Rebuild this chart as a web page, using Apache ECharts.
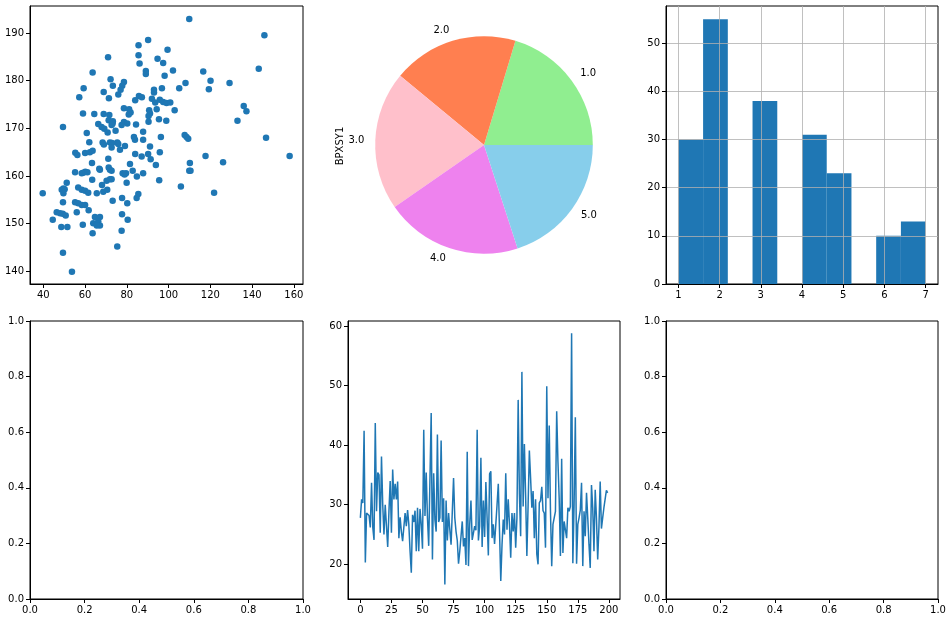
<!DOCTYPE html>
<html><head><meta charset="utf-8">
<script src="https://cdn.jsdelivr.net/npm/echarts@6/dist/echarts.min.js"></script>
<style>html,body{margin:0;padding:0;background:#fff}#c{width:951px;height:621px}</style>
</head><body><div id="c"></div>
<script>
// ---- Scatter (top-left) ----
const scatterX = [90.2,85.6,99.5,85.6,71.0,94.7,86.1,89.1,89.1,63.6,98.1,72.2,78.6,77.8,73.3,59.3,93.0,93.0,77.0,68.9,
75.9,57.2,71.4,85.8,87.2,84.0,92.0,95.8,97.4,99.0,93.6,78.6,81.1,81.8,80.9,90.7,91.1,90.4,94.3,59.0,
64.4,68.9,71.6,71.3,73.3,73.2,78.6,80.2,95.4,98.9,90.4,66.3,67.9,69.2,72.7,77.5,84.4,49.4,60.8,70.8,
74.6,87.8,62.0,68.4,71.9,75.4,83.4,
69.0,72.9,75.9,79.1,76.7,72.7,83.9,87.8,91.1,90.2,87.1,91.4,55.3,56.3,60.0,62.3,63.6,84.0,71.1,93.9,
63.3,81.5,71.3,71.9,72.7,66.8,67.1,82.8,55.2,58.4,59.1,60.1,61.1,78.0,78.9,79.6,87.8,84.8,63.4,70.3,
71.9,72.7,79.9,95.5,51.2,49.6,48.8,50.2,68.1,39.7,49.6,56.7,58.4,60.0,61.5,65.6,68.7,70.6,77.7,85.5,
84.7,49.4,73.2,80.2,55.2,56.7,58.4,60.0,56.0,61.7,46.4,48.0,49.3,50.7,64.7,67.1,77.7,44.5,80.4,63.9,
66.3,67.1,65.6,58.9,48.6,51.5,77.5,63.6,75.4,49.4,53.7,
109.9,145.9,97.4,143.2,102.1,116.6,120.1,108.1,129.2,119.3,105.1,96.8,96.3,100.8,102.9,136.0,137.3,133.0,107.7,108.6,
109.4,146.7,
95.8,117.7,158.0,110.2,126.1,109.9,110.5,105.9,121.8];
const scatterY = [188.5,187.4,186.5,185.3,184.9,184.6,183.6,182.0,181.4,181.7,181.0,180.3,179.7,178.9,178.9,178.4,178.1,177.5,178.1,177.6,
177.1,176.5,176.3,176.8,176.5,175.9,176.2,176.0,175.5,175.3,175.4,174.2,174.0,173.3,172.9,173.8,173.1,172.6,174.0,173.1,
173.0,173.0,172.8,171.7,171.5,171.0,171.3,171.0,171.9,171.6,171.4,170.9,170.3,169.9,170.7,170.7,170.8,170.3,169.0,169.1,
169.5,169.3,167.1,167.0,167.0,167.0,168.2,
166.6,166.9,166.7,166.3,165.5,166.0,167.6,167.6,166.2,164.6,164.1,163.5,164.9,164.4,164.8,165.0,165.3,164.6,163.6,162.3,
162.7,162.5,161.8,161.3,161.1,161.5,161.3,161.1,160.8,160.6,160.7,160.9,160.8,160.6,160.3,160.6,160.6,159.9,159.2,159.0,
159.3,159.3,158.6,159.1,158.6,157.4,157.1,157.2,158.1,156.4,156.4,157.6,157.1,156.9,156.5,156.4,156.7,157.1,155.4,156.2,
155.4,154.5,154.8,154.3,154.5,154.3,153.9,153.9,152.4,152.8,152.4,152.2,152.1,151.7,151.4,151.4,152.0,150.8,150.8,150.1,
150.5,149.6,149.6,149.8,149.3,149.3,148.5,148.0,145.2,143.9,139.9,
192.9,189.5,183.7,182.5,182.1,181.9,180.0,179.5,179.5,178.2,178.4,178.4,168.2,175.4,173.8,174.7,173.6,171.6,168.6,168.2,
167.8,168.0,
165.0,164.2,164.2,162.7,162.9,161.1,161.1,157.8,156.5];
const scatterXTicks = [40,60,80,100,120,140,160];
const scatterYTicks = [140,150,160,170,180,190];

// ---- Pie (top-middle) ----
const pieLabels = ['1.0','2.0','3.0','4.0','5.0'];
const pieValues = [122,112,124,122,120];
const pieColors = ['#90ee90','#ff7f50','#ffc0cb','#ee82ee','#87ceeb'];
const pieYLabel = 'BPXSY1';

// ---- Histogram (top-right) ----
const histEdges = [1.0,1.6,2.2,2.8,3.4,4.0,4.6,5.2,5.8,6.4,7.0];
const histCounts = [30,55,0,38,0,31,23,0,10,13];
const histXTicks = [1,2,3,4,5,6,7];
const histYTicks = [0,10,20,30,40,50];

// ---- Line (bottom-middle) ----
const lineValues = [27.8,30.9,30.3,42.4,20.3,28.6,28.3,28.2,26.2,33.7,
26.2,24.1,43.7,28.9,35.4,35.0,25.3,38.1,30.0,25.0,
30.0,30.3,22.9,28.9,34.0,25.3,35.9,30.9,33.5,30.9,
33.9,24.4,27.9,25.5,23.9,23.8,28.6,26.4,29.1,26.7,
22.2,18.6,28.3,27.1,29.0,22.2,29.5,22.2,29.3,26.7,
22.6,42.6,28.1,35.4,27.8,23.1,23.3,45.4,20.8,35.3,
27.5,25.5,41.8,27.1,27.8,40.8,27.1,31.1,16.6,30.7,
24.0,28.6,25.8,23.3,28.9,34.5,27.8,25.5,24.0,20.1,
22.2,21.9,27.2,23.0,24.4,19.9,38.9,19.7,26.7,30.7,
24.1,24.0,26.4,25.7,42.6,24.0,26.4,37.9,22.9,30.7,
24.6,33.8,27.8,21.5,35.2,35.6,24.4,26.7,23.4,26.7,
30.0,33.5,25.5,17.2,23.3,27.5,25.0,35.3,25.8,30.9,
26.7,21.1,28.6,25.5,28.6,22.8,27.8,47.6,31.8,24.7,
52.3,29.7,40.2,31.5,21.4,30.0,39.1,34.5,29.5,32.3,
24.4,30.9,21.7,20.0,30.3,30.7,33.0,29.0,28.6,22.8,
49.9,31.1,43.3,28.9,19.7,26.7,27.8,28.9,45.7,37.3,
31.1,21.4,37.7,21.9,27.2,27.5,24.4,29.5,28.9,29.7,
58.8,20.2,30.0,44.7,20.1,26.7,27.8,29.1,33.7,19.7,
28.9,24.7,32.0,27.8,23.3,19.4,33.3,29.5,22.2,32.5,
27.8,20.8,26.2,33.9,26.0,27.8,29.5,29.6,32.4,32.0];
const lineXTicks = [0,25,50,75,100,125,150,175,200];
const lineYTicks = [20,30,40,50,60];

// ---- Empty axes (bottom-left, bottom-right) ----
const unitTicks = [0,0.2,0.4,0.6,0.8,1.0];

const FONT = 'DejaVu Sans';
const BLUE = '#1f77b4';

function mkAxis(gridIndex, min, max, ticks, fmt, extra) {
  return Object.assign({
    type: 'value', gridIndex: gridIndex, min: min, max: max,
    axisLine: {show: true, onZero: false, lineStyle: {color: '#000', width: 1}},
    axisTick: {show: true, customValues: ticks, length: 4, lineStyle: {color: '#000', width: 1}},
    axisLabel: {show: true, customValues: ticks, formatter: fmt, color: '#000', fontSize: 10, fontFamily: FONT, margin: 6},
    splitLine: {show: false}
  }, extra || {});
}
const intFmt = v => String(Math.round(v));
const oneFmt = v => Number(v).toFixed(1);

const gridBase = {show: true, borderColor: '#000', borderWidth: 1, backgroundColor: 'transparent', containLabel: false};
const grids = [
  Object.assign({left: 30, top: 6, width: 273, height: 278}, gridBase),   // scatter
  Object.assign({left: 666, top: 6, width: 272, height: 278}, gridBase),  // histogram
  Object.assign({left: 348, top: 321, width: 272, height: 278}, gridBase),// line
  Object.assign({left: 30, top: 321, width: 273, height: 278}, gridBase), // empty BL
  Object.assign({left: 666, top: 321, width: 272, height: 278}, gridBase) // empty BR
];

const histGridLine = {show: true, lineStyle: {color: '#b0b0b0', width: 0.8}};

const xAxes = [
  mkAxis(0, 33.6, 164.4, scatterXTicks, intFmt, {axisLabel: {customValues: scatterXTicks, formatter: intFmt, color: '#000', fontSize: 10, fontFamily: FONT, margin: 6}}),
  mkAxis(1, 0.7, 7.3, histXTicks, intFmt, {z: 10, splitLine: histGridLine}),
  mkAxis(2, -9.95, 208.95, lineXTicks, intFmt),
  mkAxis(3, 0, 1, unitTicks, oneFmt),
  mkAxis(4, 0, 1, unitTicks, oneFmt)
];
const yAxes = [
  mkAxis(0, 137.35, 195.65, scatterYTicks, intFmt),
  mkAxis(1, 0, 57.75, histYTicks, intFmt, {z: 10, splitLine: histGridLine}),
  mkAxis(2, 14.18, 60.84, lineYTicks, intFmt),
  mkAxis(3, 0, 1, unitTicks, oneFmt),
  mkAxis(4, 0, 1, unitTicks, oneFmt)
];

const scatterData = scatterX.map((x, i) => [x, scatterY[i]]);
const histData = histCounts.map((c, i) => [histEdges[i], histEdges[i + 1], c]);
const lineData = lineValues.map((v, i) => [i, v]);
const pieData = pieLabels.map((n, i) => ({name: n, value: pieValues[i], itemStyle: {color: pieColors[i]}}));

const chart = echarts.init(document.getElementById('c'), null, {renderer: 'canvas'});
chart.setOption({
  animation: false,
  backgroundColor: '#fff',
  grid: grids,
  xAxis: xAxes,
  yAxis: yAxes,
  graphic: [{
    type: 'text', x: 340, y: 146, rotation: Math.PI / 2,
    style: {text: pieYLabel, font: '10px "DejaVu Sans"', fill: '#000', textAlign: 'center', textVerticalAlign: 'middle'}
  }],
  series: [
    {type: 'scatter', xAxisIndex: 0, yAxisIndex: 0, data: scatterData, symbolSize: 6.5,
     itemStyle: {color: BLUE, opacity: 1}, silent: true},
    {type: 'custom', xAxisIndex: 1, yAxisIndex: 1, data: histData, silent: true,
     encode: {x: [0, 1], y: 2},
     renderItem: function (params, api) {
       const p0 = api.coord([api.value(0), api.value(2)]);
       const p1 = api.coord([api.value(1), 0]);
       return {type: 'rect', shape: {x: p0[0], y: p0[1], width: p1[0] - p0[0], height: p1[1] - p0[1]},
               style: {fill: BLUE}};
     }},
    {type: 'line', xAxisIndex: 2, yAxisIndex: 2, data: lineData, showSymbol: false, silent: true,
     lineStyle: {color: BLUE, width: 1.5}},
    {type: 'scatter', xAxisIndex: 3, yAxisIndex: 3, data: []},
    {type: 'scatter', xAxisIndex: 4, yAxisIndex: 4, data: []},
    {type: 'pie', center: [484, 145], radius: 108.8, startAngle: 0, clockwise: false,
     avoidLabelOverlap: false, silent: true, data: pieData,
     label: {show: true, position: 'outside', color: '#000', fontSize: 10, fontFamily: FONT, distanceToLabelLine: 0},
     labelLine: {show: false, length: 11, length2: 0},
     emphasis: {disabled: true}}
  ]
});
</script>
</body></html>
